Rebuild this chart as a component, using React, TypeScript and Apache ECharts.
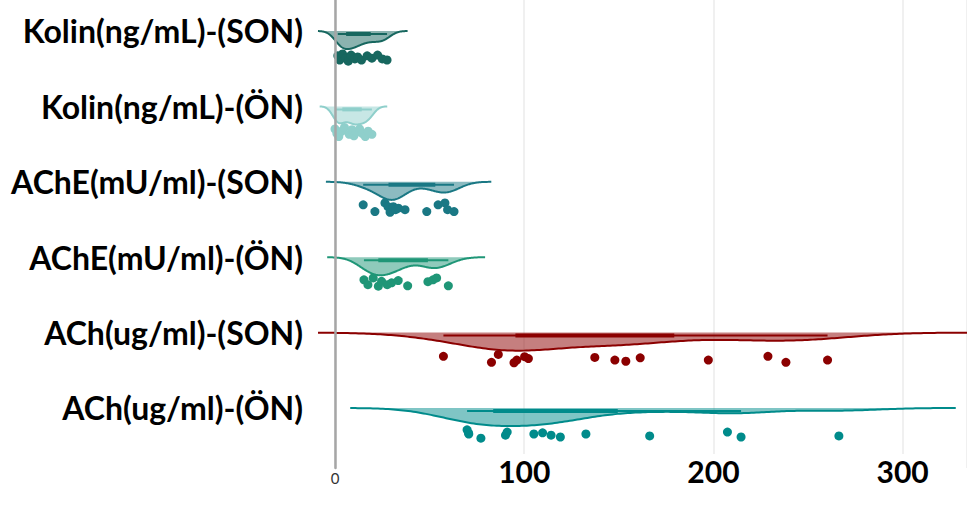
import React, { useEffect, useRef } from "react";
import * as echarts from "echarts";

const categories = [
  "Kolin(ng/mL)-(SON)",
  "Kolin(ng/mL)-(ÖN)",
  "AChE(mU/ml)-(SON)",
  "AChE(mU/ml)-(ÖN)",
  "ACh(ug/ml)-(SON)",
  "ACh(ug/ml)-(ÖN)",
];

const kolinSon = [1.5, 2.5, 4, 5.5, 7, 8.5, 10.5, 12, 14, 17, 19.5, 22.5, 25, 27.5];
const kolinOn = [0, 1, 2, 3.5, 5, 7.5, 9, 10, 11.5, 13, 14.5, 16, 17.5, 19.5];
const acheSon = [14.9, 21.1, 26.4, 28, 29.1, 30.8, 32, 33.5, 37.0, 48.5, 54.5, 58.1, 59.5, 62.9];
const acheOn = [15.3, 17.4, 20.2, 22.9, 24.6, 27.6, 29.9, 33.4, 38.4, 49.1, 51.8, 53.7, 59.9];
const achSon = [57.3, 82.7, 86.3, 94.6, 96.1, 100.2, 102.2, 137.3, 147.9, 153.7, 161.3, 197.3, 228.8, 238.3, 260.3];
const achOn = [69.8, 70.5, 70.7, 77.1, 90.1, 91.0, 105.1, 109.7, 114.2, 119.1, 132.6, 166.3, 207.4, 214.6, 266.3];

// vertical jitter of the rain points (fraction of category spacing below the slab baseline)
const kolinSonJitter = [0.33, 0.385, 0.305, 0.36, 0.4, 0.32, 0.37, 0.345, 0.385, 0.33, 0.36, 0.32, 0.37, 0.385];
const kolinOnJitter = [0.3, 0.36, 0.4, 0.33, 0.28, 0.37, 0.31, 0.39, 0.34, 0.3, 0.36, 0.4, 0.33, 0.37];
const acheSonJitter = [0.305, 0.395, 0.28, 0.33, 0.405, 0.33, 0.37, 0.35, 0.37, 0.395, 0.305, 0.28, 0.37, 0.395];
const acheOnJitter = [0.3, 0.365, 0.275, 0.385, 0.32, 0.365, 0.34, 0.31, 0.38, 0.325, 0.3, 0.275, 0.38];
const achSonJitter = [0.315, 0.395, 0.29, 0.4, 0.365, 0.32, 0.345, 0.33, 0.365, 0.38, 0.335, 0.365, 0.315, 0.395, 0.365];
const achOnJitter = [0.29, 0.33, 0.345, 0.4, 0.36, 0.32, 0.345, 0.33, 0.36, 0.385, 0.345, 0.37, 0.32, 0.385, 0.37];

const xTicks = [0, 100, 200, 300];

const groups = [kolinSon, kolinOn, acheSon, acheOn, achSon, achOn];
const jitters = [kolinSonJitter, kolinOnJitter, acheSonJitter, acheOnJitter, achSonJitter, achOnJitter];
const colors = ["#17675F", "#8FCFCB", "#1A7884", "#1F9677", "#8B0000", "#008B8B"];

const X_MIN = 0;
const X_MAX = 334;
const X_CLIP_LEFT = -9;
const SLAB = 0.24;
const BW_ADJUST = 0.8;

function quantile(sorted: number[], p: number) {
  const h = (sorted.length - 1) * p;
  const lo = Math.floor(h);
  const hi = Math.ceil(h);
  return sorted[lo] + (h - lo) * (sorted[hi] - sorted[lo]);
}

function stats(vals: number[]) {
  const s = [...vals].sort((a, b) => a - b);
  const n = s.length;
  const mean = s.reduce((a, b) => a + b, 0) / n;
  const sd = Math.sqrt(s.reduce((a, b) => a + (b - mean) * (b - mean), 0) / (n - 1));
  const q1 = quantile(s, 0.25);
  const q3 = quantile(s, 0.75);
  const iqr = q3 - q1;
  let spread = Math.min(sd, iqr / 1.34);
  if (!spread) spread = sd || 1;
  const bw = BW_ADJUST * 0.9 * spread * Math.pow(n, -0.2);
  const lowFence = q1 - 1.5 * iqr;
  const highFence = q3 + 1.5 * iqr;
  const wLo = s.find((v) => v >= lowFence) as number;
  const wHi = [...s].reverse().find((v) => v <= highFence) as number;
  const from = Math.max(s[0] - 3 * bw, X_CLIP_LEFT);
  const to = Math.min(s[n - 1] + 3 * bw, X_MAX);
  const N = 240;
  const curve: number[][] = [];
  let maxD = 0;
  for (let i = 0; i <= N; i++) {
    const x = from + ((to - from) * i) / N;
    let d = 0;
    for (const v of s) {
      const z = (x - v) / bw;
      d += Math.exp(-0.5 * z * z);
    }
    curve.push([x, d]);
    if (d > maxD) maxD = d;
  }
  curve.forEach((c) => (c[1] = c[1] / maxD));
  return { q1, q3, wLo, wHi, curve };
}

const groupStats = groups.map(stats);

function hexToRgba(hex: string, a: number) {
  const r = parseInt(hex.slice(1, 3), 16);
  const g = parseInt(hex.slice(3, 5), 16);
  const b = parseInt(hex.slice(5, 7), 16);
  return `rgba(${r},${g},${b},${a})`;
}

const FONT = "Lato, 'Open Sans', sans-serif";

export default function App() {
  const ref = useRef<HTMLDivElement>(null);
  useEffect(() => {
    const chart = echarts.init(ref.current!, null, { renderer: "svg" });
    const option: any = {
      animation: false,
      backgroundColor: "#ffffff",
      grid: { left: 335, right: 0, top: 0, bottom: 44 },
      xAxis: {
        type: "value",
        min: X_MIN,
        max: X_MAX,
        interval: 100,
        axisLine: { show: false },
        axisTick: { show: false },
        splitLine: { show: true, lineStyle: { color: "#ebebeb", width: 1.5 } },
        axisLabel: {
          showMaxLabel: false,
          margin: -14,
          formatter: (v: number) =>
            xTicks.indexOf(v) < 0 ? "" : v === 0 ? `{z|${v}}` : `{b|${v}}`,
          rich: {
            z: { fontSize: 15, color: "#333", fontFamily: FONT, padding: [16, 0, 0, 0] },
            b: {
              fontSize: 30,
              fontWeight: "bold",
              color: "#000",
              fontFamily: FONT,
              backgroundColor: "#fff",
              padding: [2, 2, 0, 2],
            },
          },
        },
      },
      yAxis: {
        type: "value",
        inverse: true,
        min: -0.411,
        max: 5.796,
        z: 10,
        axisLine: { show: true, lineStyle: { color: "#a6a6a6", width: 2.5 } },
        axisTick: { show: false },
        splitLine: { show: false },
        axisLabel: {
          customValues: categories.map((_, i) => i),
          formatter: (v: number) => categories[Math.round(v)] ?? "",
          margin: 32,
          fontSize: 32,
          fontWeight: "bold",
          color: "#000",
          fontFamily: FONT,
        },
      },
      series: [
        {
          type: "custom",
          clip: false,
          z: 2,
          data: categories.map((_, i) => [i]),
          encode: { y: 0 },
          renderItem: (params: any, api: any) => {
            const gi = api.value(0);
            const st = groupStats[gi];
            const col = colors[gi];
            const children: any[] = [];
            const curvePts = st.curve.map(([x, d]) => api.coord([x, gi + d * SLAB]));
            const first = st.curve[0][0];
            const last = st.curve[st.curve.length - 1][0];
            const poly = [api.coord([first, gi]), ...curvePts, api.coord([last, gi])];
            children.push({
              type: "polygon",
              shape: { points: poly },
              style: { fill: hexToRgba(col, 0.5), stroke: "none" },
            });
            children.push({
              type: "polyline",
              shape: { points: curvePts },
              style: { fill: "none", stroke: col, lineWidth: 2 },
            });
            const w0 = api.coord([st.wLo, gi]);
            const w1 = api.coord([st.wHi, gi]);
            children.push({
              type: "line",
              shape: { x1: w0[0], y1: w0[1] + 3, x2: w1[0], y2: w1[1] + 3 },
              style: { stroke: col, lineWidth: 2 },
            });
            const b0 = api.coord([st.q1, gi]);
            const b1 = api.coord([st.q3, gi]);
            children.push({
              type: "rect",
              shape: { x: b0[0], y: b0[1] + 1, width: b1[0] - b0[0], height: 4 },
              style: { fill: col },
            });
            const vals = groups[gi];
            const jit = jitters[gi];
            vals.forEach((v, k) => {
              const p = api.coord([v, gi + jit[k]]);
              children.push({
                type: "circle",
                shape: { cx: p[0], cy: p[1], r: 4.5 },
                style: { fill: col },
              });
            });
            return { type: "group", children };
          },
        },
      ],
    };
    chart.setOption(option);
    return () => chart.dispose();
  }, []);
  return (
    <div
      ref={ref}
      style={{ position: "fixed", left: 0, top: 0, width: 967, height: 512, background: "#fff" }}
    />
  );
}
